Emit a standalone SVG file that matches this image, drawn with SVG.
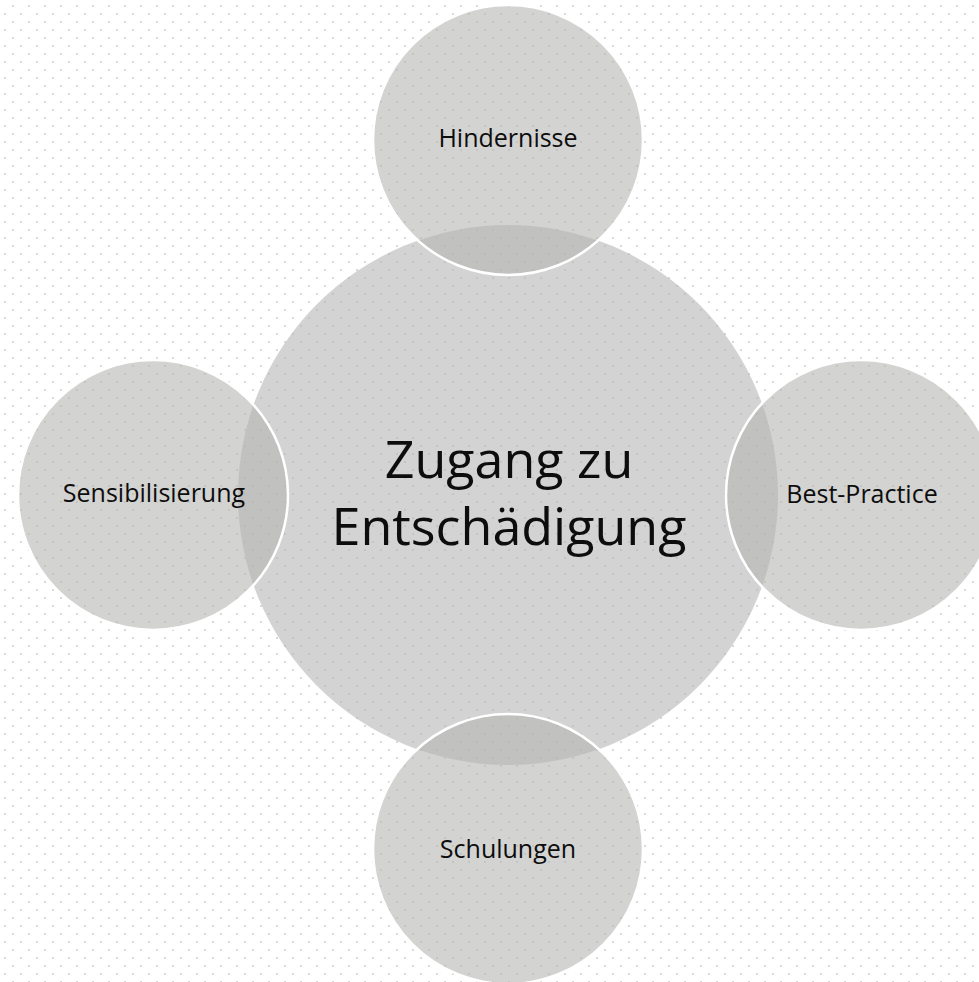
<svg xmlns="http://www.w3.org/2000/svg" width="979" height="982" viewBox="0 0 979 982">
  <defs>
    <pattern id="dots" x="0" y="0" width="16" height="16" patternUnits="userSpaceOnUse">
      <rect x="12" y="5" width="2" height="2" fill="#d9d9d9"/>
      <rect x="4" y="13" width="2" height="2" fill="#d9d9d9"/>
    </pattern>
  </defs>
  <style>
    .hub { fill: #b5b5b5; fill-opacity: 0.6; }
    .sat { fill: #b5b5b3; fill-opacity: 0.6; stroke: #ffffff; stroke-width: 2.5; }
    .lbl { font-family: "Open Sans", "Noto Sans", "Liberation Sans", sans-serif; font-size: 25px; fill: #0d0d0d; text-anchor: middle; }
    .hubtxt { font-family: "Open Sans", "Noto Sans", "Liberation Sans", sans-serif; font-size: 52px; fill: #0d0d0d; text-anchor: middle; }
  </style>
  <rect x="0" y="0" width="979" height="982" fill="#ffffff"/>
  <rect x="0" y="0" width="979" height="982" fill="url(#dots)"/>

  <g id="hub">
    <circle class="hub" cx="508" cy="495" r="270"/>
  </g>
  <g id="node-hindernisse">
    <circle class="sat" cx="508" cy="140" r="135"/>
    <text class="lbl" x="508" y="147">Hindernisse</text>
  </g>
  <g id="node-sensibilisierung">
    <circle class="sat" cx="153" cy="495" r="135"/>
    <text class="lbl" x="154" y="502">Sensibilisierung</text>
  </g>
  <g id="node-best-practice">
    <circle class="sat" cx="861" cy="495" r="135"/>
    <text class="lbl" x="862" y="503">Best-Practice</text>
  </g>
  <g id="node-schulungen">
    <circle class="sat" cx="508" cy="849" r="135"/>
    <text class="lbl" x="508" y="858">Schulungen</text>
  </g>
  <g id="hub-label">
    <text class="hubtxt" x="509" y="478">Zugang zu</text>
    <text class="hubtxt" x="509" y="545">Entschädigung</text>
  </g>
</svg>
